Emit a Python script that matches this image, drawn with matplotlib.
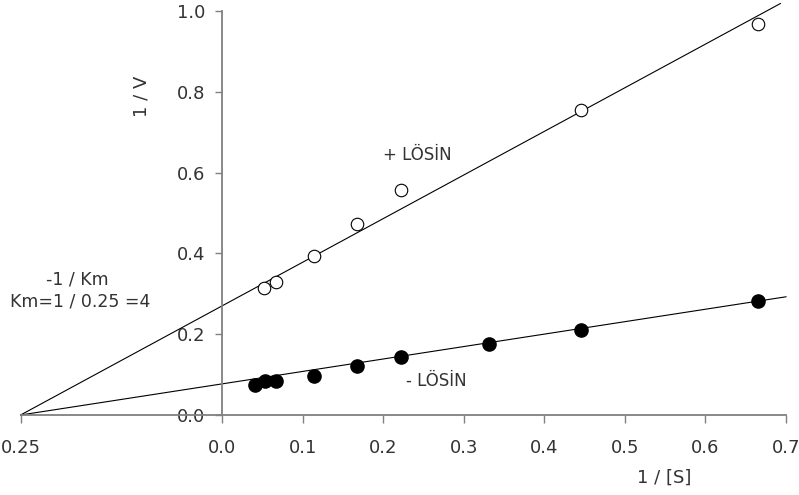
import matplotlib.pyplot as plt
import numpy as np

# 1/[S] and 1/V readings
s_plus = [0.052, 0.067, 0.114, 0.168, 0.222, 0.446, 0.665]
v_plus = [0.314, 0.329, 0.394, 0.473, 0.557, 0.755, 0.968]
s_minus = [0.041, 0.053, 0.067, 0.114, 0.168, 0.222, 0.331, 0.446, 0.665]
v_minus = [0.074, 0.084, 0.084, 0.097, 0.121, 0.144, 0.176, 0.210, 0.282]

# fitted lines, both meet at -1/Km = -0.25
x_int = -0.25
plus_intercept = 0.27
minus_intercept = 0.077
plus_end = 0.693
minus_end = 0.70

xticks = [-0.25, 0.0, 0.1, 0.2, 0.3, 0.4, 0.5, 0.6, 0.7]
xticklabels = ["0.25", "0.0", "0.1", "0.2", "0.3", "0.4", "0.5", "0.6", "0.7"]
yticks = [0.0, 0.2, 0.4, 0.6, 0.8, 1.0]

TXT = "#333333"
AX = "#808080"
plt.rcParams["font.family"] = ["DejaVu Sans"]

fig = plt.figure(figsize=(7.99, 4.95), dpi=100)
ax = fig.add_axes([20.6 / 799, 1 - 415 / 495, (786 - 20.6) / 799, 404 / 495])
ax.set_xlim(-0.25, 0.7)
ax.set_ylim(0, 1)

for b0, xe in [(plus_intercept, plus_end), (minus_intercept, minus_end)]:
    slope = -b0 / x_int
    xs = np.array([x_int, xe])
    ax.plot(xs, b0 + slope * xs, color="black", lw=0.8, clip_on=False, zorder=2)

ax.plot(s_plus, v_plus, "o", ms=9, mfc="white", mec="black", mew=0.8,
        clip_on=False, zorder=3)
ax.plot(s_minus, v_minus, "o", ms=9.5, mfc="black", mec="black",
        clip_on=False, zorder=3)

for side in ["top", "right"]:
    ax.spines[side].set_visible(False)
ax.spines["left"].set_position(("data", 0))
ax.spines["left"].set_color(AX)
ax.spines["bottom"].set_color(AX)
ax.spines["left"].set_linewidth(1.3)
ax.spines["bottom"].set_linewidth(1.3)

ax.set_xticks(xticks)
ax.set_xticklabels(xticklabels)
ax.set_yticks(yticks)
ax.set_yticklabels([f"{v:.1f}" for v in yticks])
ax.tick_params(axis="x", direction="out", length=6, width=1, color=AX,
               pad=11, labelsize=13, labelcolor=TXT)
ax.tick_params(axis="y", direction="out", length=5, width=1, color=AX,
               pad=7, labelsize=13, labelcolor=TXT)

ax.text(0.243, 0.644, "+ LÖSİN", fontsize=12, color=TXT, ha="center", va="center")
ax.text(0.266, 0.084, "- LÖSİN", fontsize=12, color=TXT, ha="center", va="center")

fig.text(77 / 799, 1 - 280 / 495, "-1 / Km", fontsize=12.5, color=TXT,
         ha="center", va="center")
fig.text(80 / 799, 1 - 301 / 495, "Km=1 / 0.25 =4", fontsize=12.5, color=TXT,
         ha="center", va="center")
fig.text(142 / 799, 1 - 96 / 495, "1 / V", fontsize=13, color=TXT,
         ha="center", va="center", rotation=90)
fig.text(664 / 799, 1 - 478 / 495, "1 / [S]", fontsize=13, color=TXT,
         ha="center", va="center")

fig.savefig("out.png", dpi=100)
